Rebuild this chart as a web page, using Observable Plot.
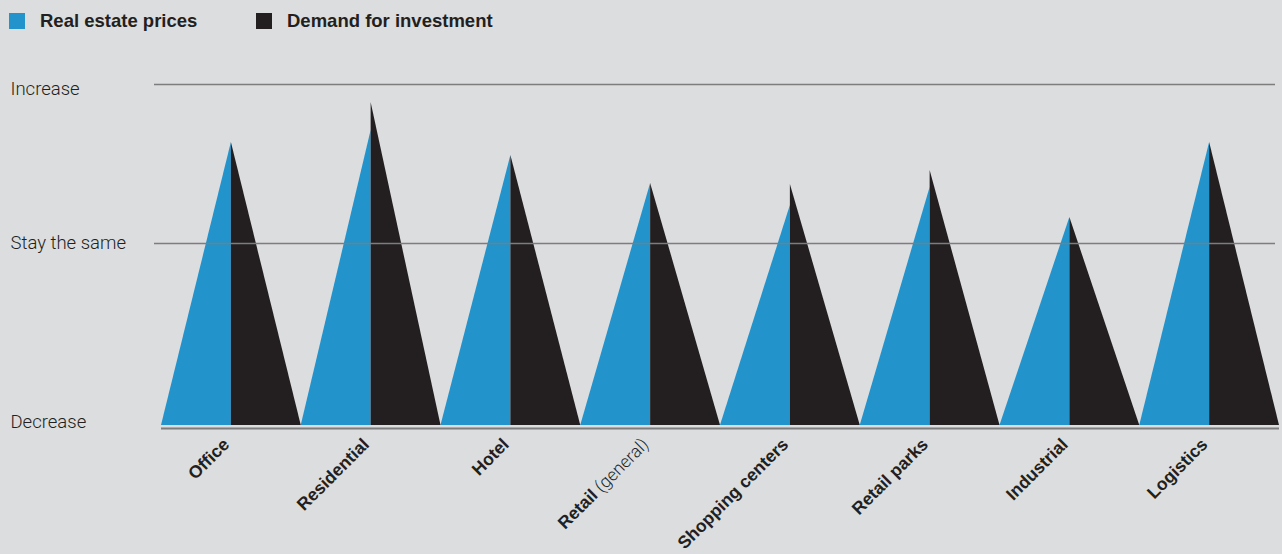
<!DOCTYPE html>
<html>
<head>
<meta charset="utf-8">
<script src="https://cdn.jsdelivr.net/npm/d3@7"></script>
<script src="https://cdn.jsdelivr.net/npm/@observablehq/plot@0.6"></script>
<style>
  html, body { margin: 0; padding: 0; background: #DCDDDF; }
  body { width: 1282px; height: 554px; overflow: hidden; font-family: "Liberation Sans", Arial, sans-serif; color: #231F20; }
  #legend { height: 38px; position: relative; }
  .item { position: absolute; top: 10px; display: flex; align-items: center; font-weight: bold; font-size: 18.5px; }
  .sw { width: 16px; height: 16px; margin-right: 15px; }
  svg { display: block; }
</style>
</head>
<body>
<div id="legend"></div>
<div id="chart"></div>
<script>
const categories = ["Office", "Residential", "Hotel", "Retail (general)", "Shopping centers", "Retail parks", "Industrial", "Logistics"];
const realEstatePrices = [83, 86.5, 79.2, 71, 64.5, 69.8, 61, 83];
const demandForInvestment = [83, 94.7, 79.2, 71, 70.7, 74.8, 61, 83];
const yTickValues = [0, 53.4, 100];
const yTickLabels = ["Decrease", "Stay the same", "Increase"];
const seriesNames = ["Real estate prices", "Demand for investment"];
const seriesColors = ["#2293CB", "#231F20"];

// legend
const legend = document.getElementById("legend");
const legendX = [9, 256];
seriesNames.forEach((name, i) => {
  const el = document.createElement("div");
  el.className = "item";
  el.style.left = legendX[i] + "px";
  el.innerHTML = `<span class="sw" style="background:${seriesColors[i]}"></span><span>${name}</span>`;
  legend.appendChild(el);
});

// triangle halves built from the values
const leftHalves = categories.flatMap((c, i) => [
  {cat: c, x: i - 0.5, y: 0},
  {cat: c, x: i, y: realEstatePrices[i]}
]);
const rightHalves = categories.flatMap((c, i) => [
  {cat: c, x: i, y: demandForInvestment[i]},
  {cat: c, x: i + 0.5, y: 0}
]);

const yLabelStyle = {frameAnchor: "left", textAnchor: "start", dx: -151, fontFamily: "Roboto", fontWeight: 300, fontSize: 18.5, fill: "#231F20"};
const yLabelShift = [-3, 0, 5];

const chart = Plot.plot({
  width: 1282,
  height: 516,
  marginLeft: 161,
  marginRight: 3,
  marginTop: 46,
  marginBottom: 129,
  style: {background: "#DCDDDF", overflow: "visible"},
  x: {type: "linear", domain: [-0.5, categories.length - 0.5], axis: null},
  y: {domain: [0, 100], axis: null},
  marks: [
    Plot.areaY(leftHalves, {x: "x", y: "y", z: "cat", fill: seriesColors[0], curve: "linear"}),
    Plot.areaY(rightHalves, {x: "x", y: "y", z: "cat", fill: seriesColors[1], curve: "linear"}),
    Plot.ruleY(yTickValues.slice(1), {stroke: "#7d7d7d", strokeWidth: 1.5, insetLeft: -7, insetRight: 4}),
    Plot.ruleY([0], {dy: 3, stroke: "#7d7d7d", strokeWidth: 2}),
    ...yTickValues.map((v, i) => Plot.text([v], {y: d => d, text: () => yTickLabels[i], ...yLabelStyle, dy: yLabelShift[i]})),
    Plot.text(categories, {
      x: (d, i) => i, y: () => 0, text: d => d,
      rotate: -45, textAnchor: "end", lineAnchor: "bottom",
      dx: -1, dy: 20,
      fontFamily: "Liberation Sans", fontWeight: "bold", fontSize: 17.5, fill: "#231F20"
    })
  ]
});

// mixed weight for "Retail (general)"
chart.querySelectorAll("text").forEach(t => {
  if (t.textContent === "Retail (general)") {
    t.textContent = "";
    const ns = "http://www.w3.org/2000/svg";
    const a = document.createElementNS(ns, "tspan");
    a.textContent = "Retail";
    const b = document.createElementNS(ns, "tspan");
    b.textContent = " (general)";
    b.setAttribute("font-weight", "300");
    b.setAttribute("font-family", "Roboto");
    t.appendChild(a);
    t.appendChild(b);
  }
});

document.getElementById("chart").appendChild(chart);
</script>
</body>
</html>
